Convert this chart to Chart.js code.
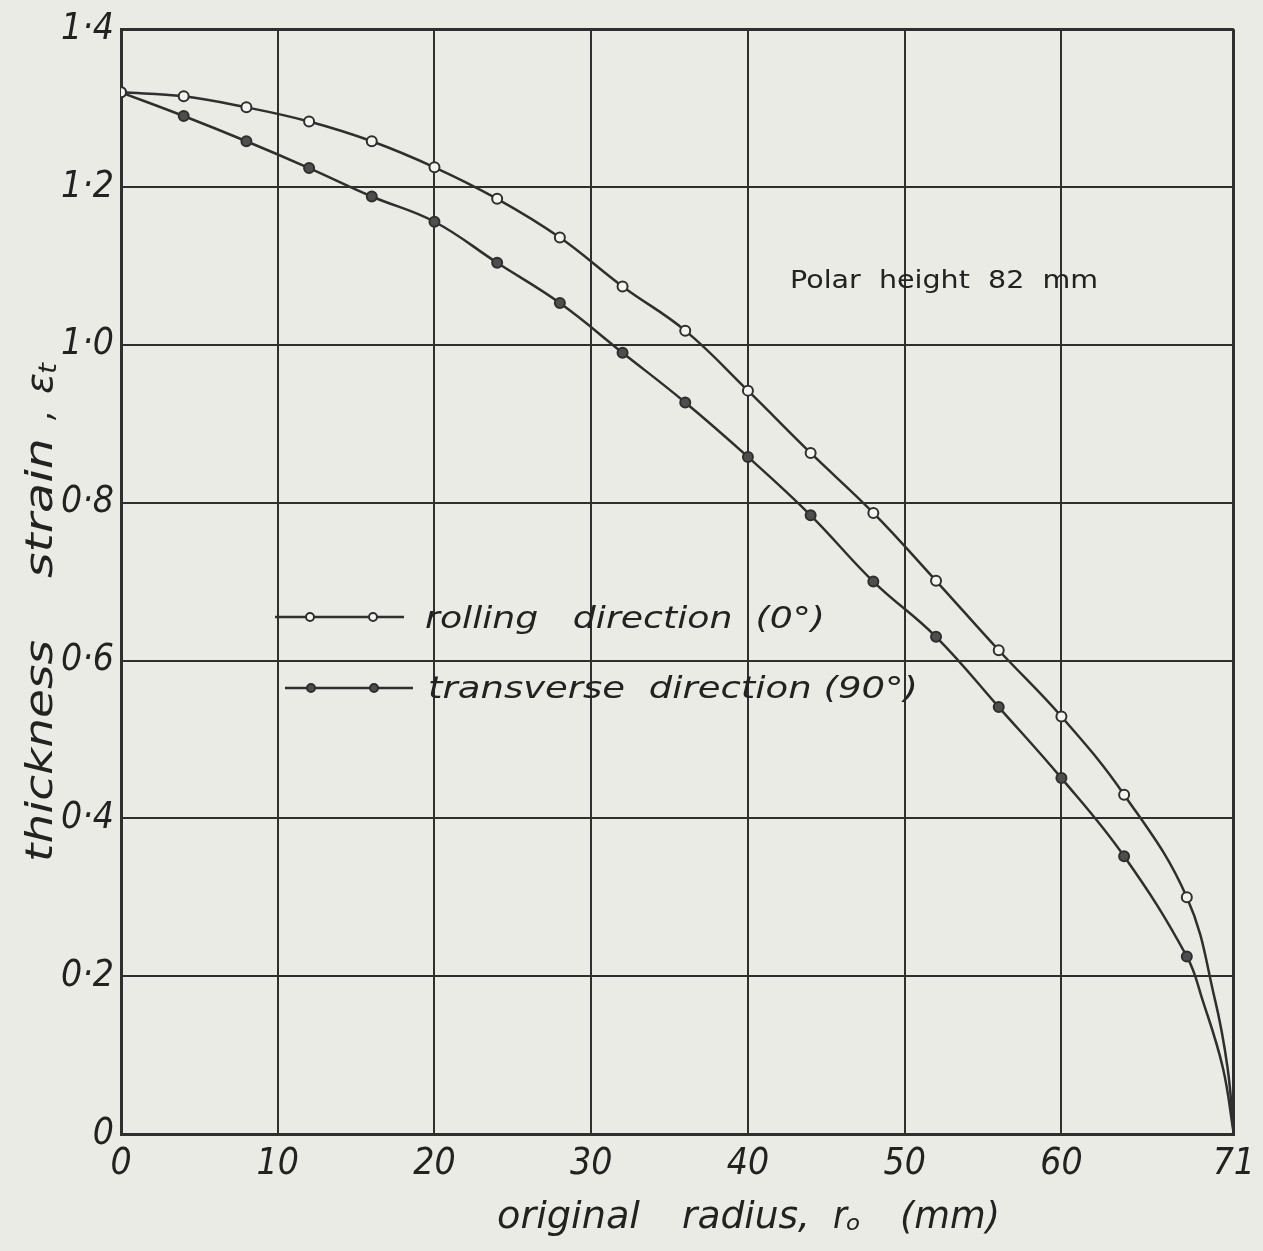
<!DOCTYPE html>
<html>
<head>
<meta charset="utf-8">
<script src="https://cdn.jsdelivr.net/npm/chart.js@4.4.1/dist/chart.umd.min.js"></script>
<style>
  body { margin: 0; background: #e9ebe4; }
  canvas { display: block; }
</style>
</head>
<body>
<canvas id="chart" width="1263" height="1251"></canvas>
<script>
// values (original radius in mm, thickness strain)
const radius = [0, 4, 8, 12, 16, 20, 24, 28, 32, 36, 40, 44, 48, 52, 56, 60, 64, 68];
const rolling = [1.320, 1.315, 1.301, 1.283, 1.258, 1.225, 1.185, 1.136, 1.074, 1.018, 0.942, 0.863, 0.787, 0.701, 0.613, 0.529, 0.430, 0.300];
const transverse = [1.320, 1.290, 1.258, 1.224, 1.188, 1.156, 1.104, 1.053, 0.990, 0.927, 0.858, 0.784, 0.700, 0.630, 0.541, 0.451, 0.352, 0.225];

// where the drawn curves run down to the pole (no markers there)
const rollingTailX = [69.8, 70.6, 71];
const rollingTailY = [0.17, 0.084, 0];
const transverseTailX = [69.0, 70.3, 71];
const transverseTailY = [0.17, 0.084, 0];

const xTicks = [0, 10, 20, 30, 40, 50, 60, 71];
const yTicks = [0, 0.2, 0.4, 0.6, 0.8, 1.0, 1.2, 1.4];

const ink = '#2f2f2f';
const paper = '#e9ebe4';
const tickFont = { family: '"Liberation Sans Narrow", "DejaVu Sans Condensed", "DejaVu Sans", sans-serif', size: 37, style: 'italic' };
const textFamily = '"DejaVu Sans", sans-serif';

function toPoints(xs, ys) {
    return xs.map((x, i) => ({ x: x, y: ys[i] }));
}

// draw a string squeezed/stretched to a given width, starting at x
function fitText(ctx, text, x, y, width, font) {
    ctx.save();
    ctx.font = font;
    ctx.textBaseline = 'alphabetic';
    ctx.textAlign = 'left';
    const w = ctx.measureText(text).width;
    ctx.translate(x, y);
    ctx.scale(width / w, 1);
    ctx.fillText(text, 0, 0);
    ctx.restore();
}

function marker(ctx, x, y, r, filled) {
    ctx.beginPath();
    ctx.arc(x, y, r, 0, Math.PI * 2);
    ctx.fillStyle = filled ? '#4e4e4e' : '#f4f5f0';
    ctx.fill();
    ctx.lineWidth = 2;
    ctx.strokeStyle = ink;
    ctx.stroke();
}

const paperPlugin = {
    id: 'paper',
    beforeDraw(chart) {
        const ctx = chart.ctx;
        ctx.save();
        ctx.fillStyle = paper;
        ctx.fillRect(0, 0, chart.width, chart.height);
        ctx.restore();
    }
};

const notesPlugin = {
    id: 'notes',
    afterDraw(chart) {
        const ctx = chart.ctx;
        ctx.save();
        ctx.strokeStyle = ink;

        // legend inside the plot
        ctx.lineWidth = 2.5;
        ctx.beginPath();
        ctx.moveTo(275, 617); ctx.lineTo(404, 617);
        ctx.moveTo(285, 688); ctx.lineTo(413, 688);
        ctx.stroke();
        marker(ctx, 310, 617, 4, false);
        marker(ctx, 373, 617, 4, false);
        marker(ctx, 311, 688, 4, true);
        marker(ctx, 374, 688, 4, true);
        ctx.fillStyle = '#222';
        const legendFont = 'italic 31px ' + textFamily;
        fitText(ctx, 'rolling   direction  (0\u00b0)', 425, 628, 400, legendFont);
        fitText(ctx, 'transverse  direction (90\u00b0)', 428, 698, 490, legendFont);

        // annotation
        fitText(ctx, 'Polar  height  82  mm', 790, 288, 308, '25px ' + textFamily);

        // x axis title with subscript
        const titleFont = 'italic 38px ' + textFamily;
        fitText(ctx, 'original', 497, 1228, 143, titleFont);
        fitText(ctx, 'radius,', 682, 1228, 128, titleFont);
        fitText(ctx, 'r', 833, 1228, 14, titleFont);
        fitText(ctx, 'o', 846, 1230, 14, 'italic 22px ' + textFamily);
        fitText(ctx, '(mm)', 900, 1228, 100, titleFont);

        // y axis title, rotated
        ctx.save();
        ctx.translate(52, 0);
        ctx.rotate(-Math.PI / 2);
        fitText(ctx, 'thickness', -862, 0, 222, titleFont);
        fitText(ctx, 'strain', -578, 0, 140, titleFont);
        fitText(ctx, ',', -420, 0, 10, titleFont);
        fitText(ctx, '\u03b5', -394, 0, 21, titleFont);
        fitText(ctx, 't', -374, 4, 11, 'italic 24px ' + textFamily);
        ctx.restore();

        ctx.restore();
    }
};

const lineStyle = (points, filled) => ({
    data: points,
    showLine: true,
    tension: 0.4,
    borderColor: ink,
    borderWidth: 2.5,
    pointRadius: ctx => (ctx.dataIndex < radius.length ? 5 : 0),
    pointBackgroundColor: filled ? '#4e4e4e' : '#f4f5f0',
    pointBorderColor: ink,
    pointBorderWidth: 2
});

const ctx = document.getElementById('chart').getContext('2d');
const chart = new Chart(ctx, {
    type: 'scatter',
    data: {
        datasets: [
            Object.assign({ label: 'rolling direction (0\u00b0)' },
                lineStyle(toPoints(radius, rolling).concat(toPoints(rollingTailX, rollingTailY)), false)),
            Object.assign({ label: 'transverse direction (90\u00b0)' },
                lineStyle(toPoints(radius, transverse).concat(toPoints(transverseTailX, transverseTailY)), true))
        ]
    },
    options: {
        responsive: false,
        animation: false,
        layout: { padding: { top: 27, right: 22, left: 0, bottom: 0 } },
        plugins: {
            legend: { display: false },
            tooltip: { enabled: false }
        },
        scales: {
            x: {
                type: 'linear',
                min: 0,
                max: 71,
                afterBuildTicks: scale => { scale.ticks = xTicks.map(v => ({ value: v })); },
                afterFit: scale => { scale.height = 117; },
                grid: {
                    color: ink,
                    lineWidth: c => (c.tick && c.tick.value === 71 ? 3 : 2),
                    drawTicks: false
                },
                border: { color: ink, width: 3 },
                ticks: {
                    font: tickFont,
                    color: '#222',
                    padding: 8,
                    maxRotation: 0,
                    autoSkip: false,
                    callback: v => String(v)
                }
            },
            y: {
                type: 'linear',
                min: 0,
                max: 1.4,
                afterBuildTicks: scale => { scale.ticks = yTicks.map(v => ({ value: v })); },
                afterFit: scale => { scale.width = 121; },
                grid: {
                    color: ink,
                    lineWidth: c => (c.tick && c.tick.value === 1.4 ? 3 : 2),
                    drawTicks: false
                },
                border: { color: ink, width: 3 },
                ticks: {
                    font: tickFont,
                    color: '#222',
                    padding: 7,
                    autoSkip: false,
                    callback: v => (v === 0 ? '0' : v.toFixed(1).replace('.', '\u00b7'))
                }
            }
        }
    },
    plugins: [paperPlugin, notesPlugin]
});
</script>
</body>
</html>
